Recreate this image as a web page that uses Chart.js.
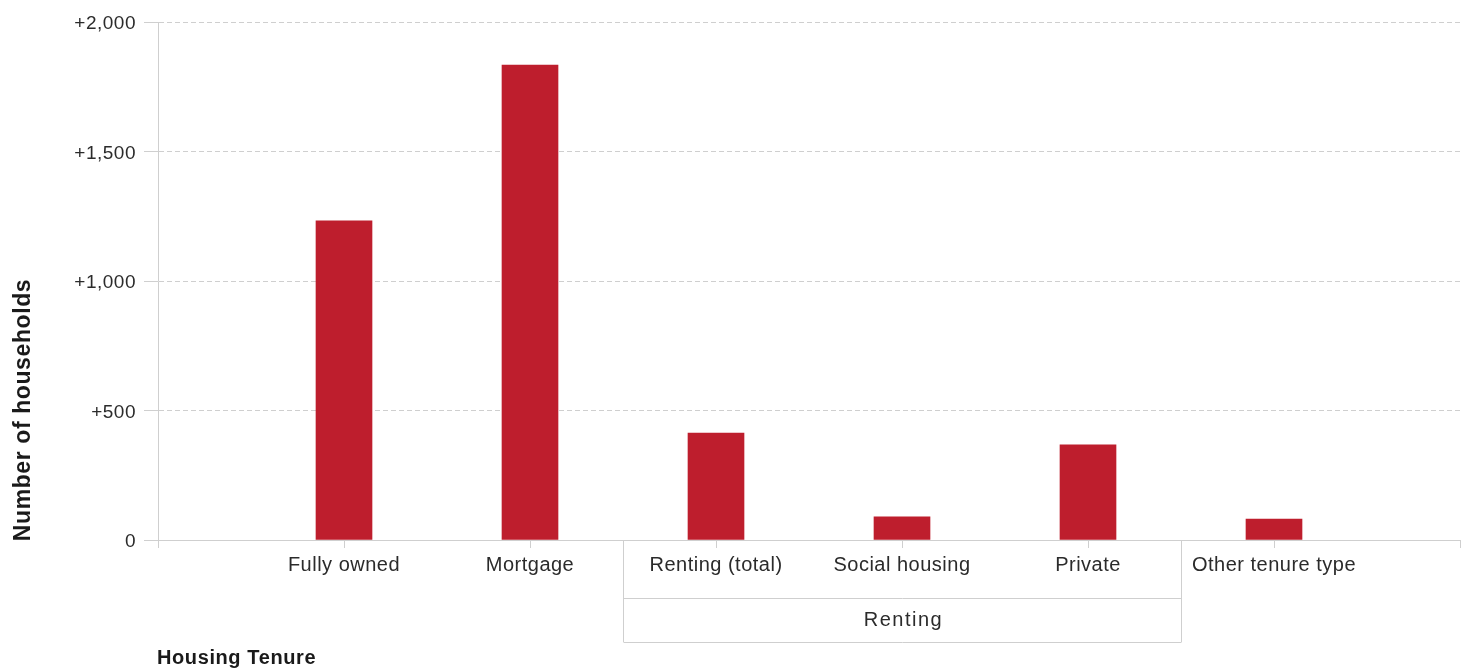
<!DOCTYPE html>
<html>
<head>
<meta charset="utf-8">
<script src="https://cdn.jsdelivr.net/npm/chart.js@4.4.1/dist/chart.umd.min.js"></script>
<style>
    body { margin: 0; background: #fff; }
    #wrap { width: 1469px; height: 670px; position: relative; }
</style>
</head>
<body>
<div id="wrap"><canvas id="barChart"></canvas></div>
<script>
// data
var categories = ['Fully owned', 'Mortgage', 'Renting (total)', 'Social housing', 'Private', 'Other tenure type'];
var households = [1232, 1834, 413, 89, 367, 81];
var yTicks = [0, 500, 1000, 1500, 2000];
var groupLabel = 'Renting';
var groupMembers = ['Renting (total)', 'Social housing', 'Private'];
var xTitle = 'Housing Tenure';
var yTitle = 'Number of households';

// empty slot either side, like the original axis
var labels = [''].concat(categories, ['']);
var values = [null].concat(households, [null]);

var lineCol = '#cfcfcf';
var textCol = '#2b2b2b';
var fontFam = '"Liberation Sans", Arial, sans-serif';

var extras = {
    id: 'extras',
    beforeDraw: function (chart) {
        // y labels are drawn first, x labels after the bars (z: 1)
        chart.ctx.letterSpacing = '0.5px';
    },
    afterDatasetsDraw: function (chart) {
        chart.ctx.letterSpacing = '1.5px';
    },
    afterDraw: function (chart) {
        var ctx = chart.ctx;
        var x = chart.scales.x;
        var area = chart.chartArea;
        var first = labels.indexOf(groupMembers[0]);
        var last = labels.indexOf(groupMembers[groupMembers.length - 1]);
        var step = x.getPixelForValue(first + 1) - x.getPixelForValue(first);
        var left = Math.round(x.getPixelForValue(first) - step / 2) + 0.5;
        var right = Math.round(x.getPixelForValue(last) + step / 2) + 0.5;
        var mid = area.bottom + 58;
        var bot = area.bottom + 102;

        ctx.save();
        ctx.strokeStyle = lineCol;
        ctx.lineWidth = 1;
        ctx.beginPath();
        ctx.moveTo(left, area.bottom);
        ctx.lineTo(left, bot);
        ctx.moveTo(right, area.bottom);
        ctx.lineTo(right, bot);
        ctx.moveTo(left, mid + 0.5);
        ctx.lineTo(right, mid + 0.5);
        ctx.moveTo(left, bot + 0.5);
        ctx.lineTo(right, bot + 0.5);
        ctx.stroke();

        ctx.letterSpacing = '1.5px';
        ctx.fillStyle = textCol;
        ctx.font = '20px ' + fontFam;
        ctx.textAlign = 'center';
        ctx.textBaseline = 'middle';
        ctx.fillText(groupLabel, (left + right) / 2 + 1, (mid + bot) / 2);

        ctx.letterSpacing = '0.6px';
        ctx.fillStyle = '#1a1a1a';
        ctx.font = 'bold 20px ' + fontFam;
        ctx.textAlign = 'left';
        ctx.textBaseline = 'alphabetic';
        ctx.fillText(xTitle, 157, 664);

        ctx.translate(24, 410);
        ctx.rotate(-Math.PI / 2);
        ctx.font = 'bold 23px ' + fontFam;
        ctx.textAlign = 'center';
        ctx.textBaseline = 'middle';
        ctx.fillText(yTitle, 0, 0);
        ctx.restore();
    }
};

var barCtx = document.getElementById('barChart').getContext('2d');
var barChart = new Chart(barCtx, {
    type: 'bar',
    data: {
        labels: labels,
        datasets: [{
            label: yTitle,
            data: values,
            backgroundColor: '#BE1E2D',
            barThickness: 56
        }]
    },
    options: {
        responsive: true,
        maintainAspectRatio: false,
        animation: false,
        layout: {
            padding: { top: 22, right: 9, left: 0, bottom: 0 }
        },
        plugins: {
            legend: { display: false },
            tooltip: { enabled: false }
        },
        scales: {
            x: {
                offset: false,
                z: 1,
                afterFit: function (scale) { scale.height = 130; },
                grid: {
                    offset: false,
                    drawOnChartArea: false,
                    color: lineCol,
                    tickLength: 8
                },
                border: { color: lineCol },
                ticks: {
                    autoSkip: false,
                    maxRotation: 0,
                    padding: 5,
                    color: textCol,
                    font: { family: fontFam, size: 20 }
                }
            },
            y: {
                min: 0,
                max: 2000,
                afterFit: function (scale) { scale.width = 158; },
                afterBuildTicks: function (scale) {
                    scale.ticks = yTicks.map(function (v) { return { value: v }; });
                },
                grid: {
                    color: lineCol,
                    tickLength: 14,
                    tickBorderDash: []
                },
                border: { color: lineCol, dash: [5, 3] },
                ticks: {
                    padding: 8,
                    labelOffset: 2,
                    color: textCol,
                    font: { family: fontFam, size: 19 },
                    callback: function (v) {
                        return v === 0 ? '0' : '+' + v.toLocaleString('en-US');
                    }
                }
            }
        }
    },
    plugins: [extras]
});
</script>
</body>
</html>
